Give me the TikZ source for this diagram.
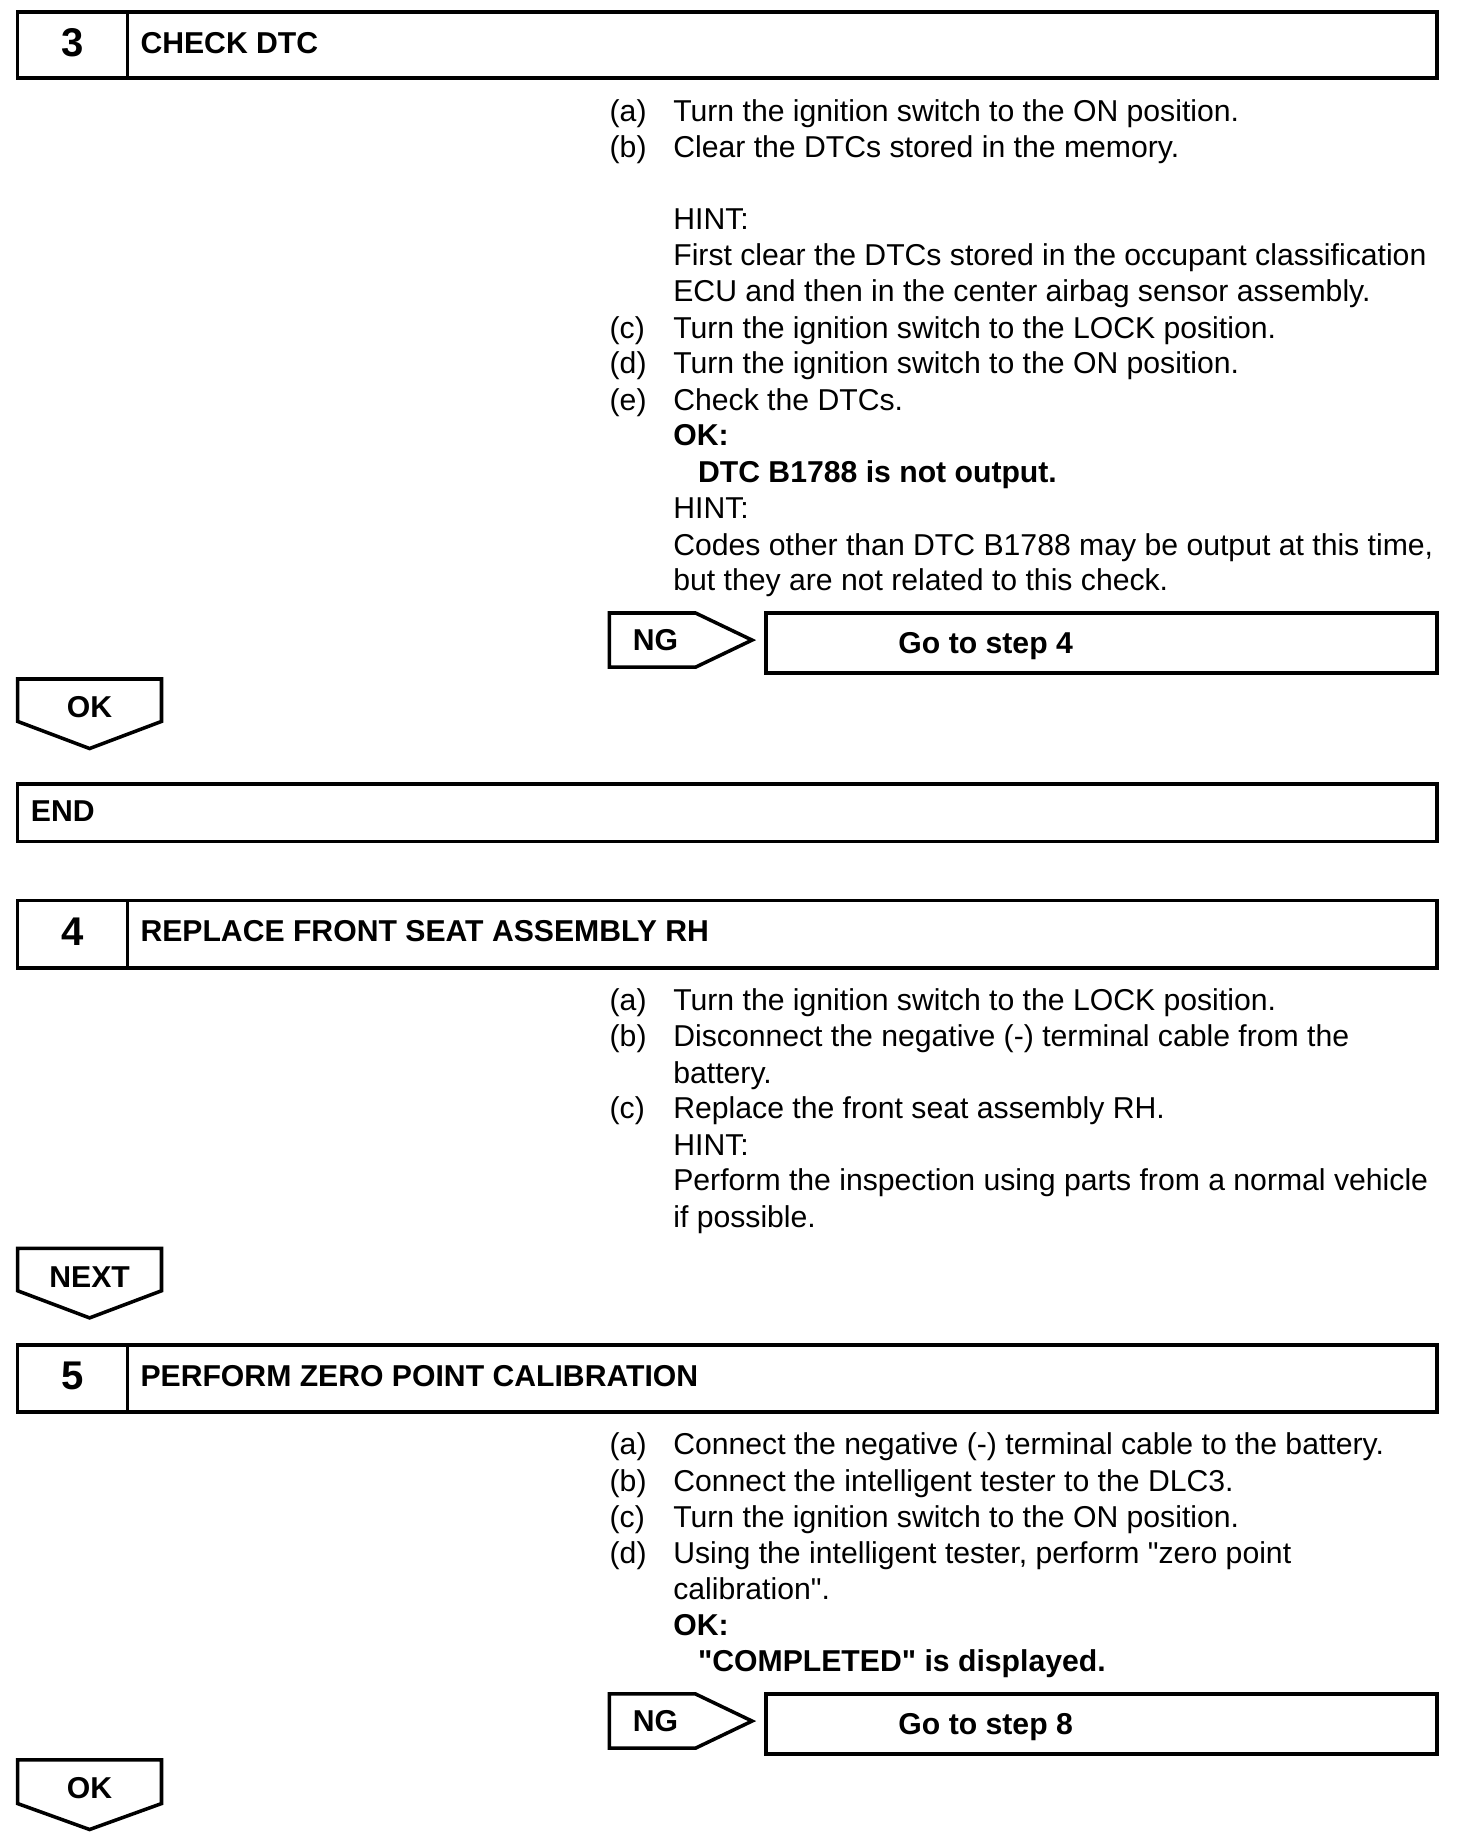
\documentclass[tikz,border=0pt]{standalone}
\usepackage{fontspec}
\setmainfont{Liberation Sans}[Ligatures=TeXOff]
\begin{document}
\begin{tikzpicture}[x=1pt,y=-1pt,
  txt/.style={anchor=base west, inner sep=0pt, font=\fontsize{25.6}{30.7}\selectfont},
  btxt/.style={anchor=base west, inner sep=0pt, font=\fontsize{25.6}{30.7}\selectfont\bfseries},
  ctxt/.style={anchor=base, inner sep=0pt, font=\fontsize{25.6}{30.7}\selectfont\bfseries},
  num/.style={anchor=base, inner sep=0pt, font=\fontsize{34}{40}\selectfont\bfseries},
  frame/.style={draw, line width=3pt, line join=miter},
  divider/.style={draw, line width=2.2pt},
]
\useasboundingbox (0,0) rectangle (1236,1566);

% ---------- Step 3 ----------
\draw[frame] (15,10) rectangle (1219,66);
\draw[divider] (108,10) -- (108,66);
\node[num] (n3) at (62,48) {3};
\node[btxt] (t3) at (119,45) {CHECK DTC};

\node[txt] (l3a) at (517,103) {(a)};
\node[txt] (s3a) at (571,103) {Turn the ignition switch to the ON position.};
\node[txt] (l3b) at (517,134) {(b)};
\node[txt] (s3b) at (571,134) {Clear the DTCs stored in the memory.};
\node[txt] (h3a) at (571,195) {HINT:};
\node[txt] (h3b) at (571,225) {First clear the DTCs stored in the occupant classification};
\node[txt] (h3c) at (571,256) {ECU and then in the center airbag sensor assembly.};
\node[txt] (l3c) at (517,287) {(c)};
\node[txt] (s3c) at (571,287) {Turn the ignition switch to the LOCK position.};
\node[txt] (l3d) at (517,317) {(d)};
\node[txt] (s3d) at (571,317) {Turn the ignition switch to the ON position.};
\node[txt] (l3e) at (517,348) {(e)};
\node[txt] (s3e) at (571,348) {Check the DTCs.};
\node[btxt] (ok3a) at (571,378) {OK:};
\node[btxt] (ok3b) at (592,409) {DTC B1788 is not output.};
\node[txt] (h3d) at (571,440) {HINT:};
\node[txt] (h3e) at (571,471) {Codes other than DTC B1788 may be output at this time,};
\node[txt] (h3f) at (571,501) {but they are not related to this check.};

\draw[frame] (517,520) -- (590,520) -- (638,543) -- (590,566) -- (517,566) -- cycle;
\node[ctxt] (ng3) at (556,552) {NG};
\draw[frame] (650,520) rectangle (1219,571);
\node[btxt] (go4) at (762,554) {Go to step 4};

\draw[frame] (15,576) -- (137,576) -- (137,612) -- (76,635) -- (15,612) -- cycle;
\node[ctxt] (ok3) at (76,609) {OK};

\draw[frame] (15,665) rectangle (1219,714);
\node[btxt] (endt) at (26,697) {END};

% ---------- Step 4 ----------
\draw[frame] (15,764) rectangle (1219,821);
\draw[divider] (108,764) -- (108,821);
\node[num] (n4) at (62,802) {4};
\node[btxt] (t4) at (119,799) {REPLACE FRONT SEAT ASSEMBLY RH};

\node[txt] (l4a) at (517,857) {(a)};
\node[txt] (s4a) at (571,857) {Turn the ignition switch to the LOCK position.};
\node[txt] (l4b) at (517,888) {(b)};
\node[txt] (s4b) at (571,888) {Disconnect the negative (-) terminal cable from the};
\node[txt] (s4b2) at (571,919) {battery.};
\node[txt] (l4c) at (517,949) {(c)};
\node[txt] (s4c) at (571,949) {Replace the front seat assembly RH.};
\node[txt] (h4a) at (571,980) {HINT:};
\node[txt] (h4b) at (571,1010) {Perform the inspection using parts from a normal vehicle};
\node[txt] (h4c) at (571,1041) {if possible.};

\draw[frame] (15,1059) -- (137,1059) -- (137,1095) -- (76,1118) -- (15,1095) -- cycle;
\node[ctxt] (next4) at (76,1092) {NEXT};

% ---------- Step 5 ----------
\draw[frame] (15,1141) rectangle (1219,1198);
\draw[divider] (108,1141) -- (108,1198);
\node[num] (n5) at (62,1179) {5};
\node[btxt] (t5) at (119,1176) {PERFORM ZERO POINT CALIBRATION};

\node[txt] (l5a) at (517,1234) {(a)};
\node[txt] (s5a) at (571,1234) {Connect the negative (-) terminal cable to the battery.};
\node[txt] (l5b) at (517,1265) {(b)};
\node[txt] (s5b) at (571,1265) {Connect the intelligent tester to the DLC3.};
\node[txt] (l5c) at (517,1296) {(c)};
\node[txt] (s5c) at (571,1296) {Turn the ignition switch to the ON position.};
\node[txt] (l5d) at (517,1326) {(d)};
\node[txt] (s5d) at (571,1326) {Using the intelligent tester, perform "zero point};
\node[txt] (s5d2) at (571,1357) {calibration".};
\node[btxt] (ok5a) at (571,1387) {OK:};
\node[btxt] (ok5b) at (592,1418) {"COMPLETED" is displayed.};

\draw[frame] (517,1437) -- (590,1437) -- (638,1460) -- (590,1483) -- (517,1483) -- cycle;
\node[ctxt] (ng5) at (556,1469) {NG};
\draw[frame] (650,1437) rectangle (1219,1488);
\node[btxt] (go8) at (762,1471) {Go to step 8};

\draw[frame] (15,1493) -- (137,1493) -- (137,1530) -- (76,1552) -- (15,1530) -- cycle;
\node[ctxt] (ok5) at (76,1526) {OK};
\end{tikzpicture}
\end{document}
